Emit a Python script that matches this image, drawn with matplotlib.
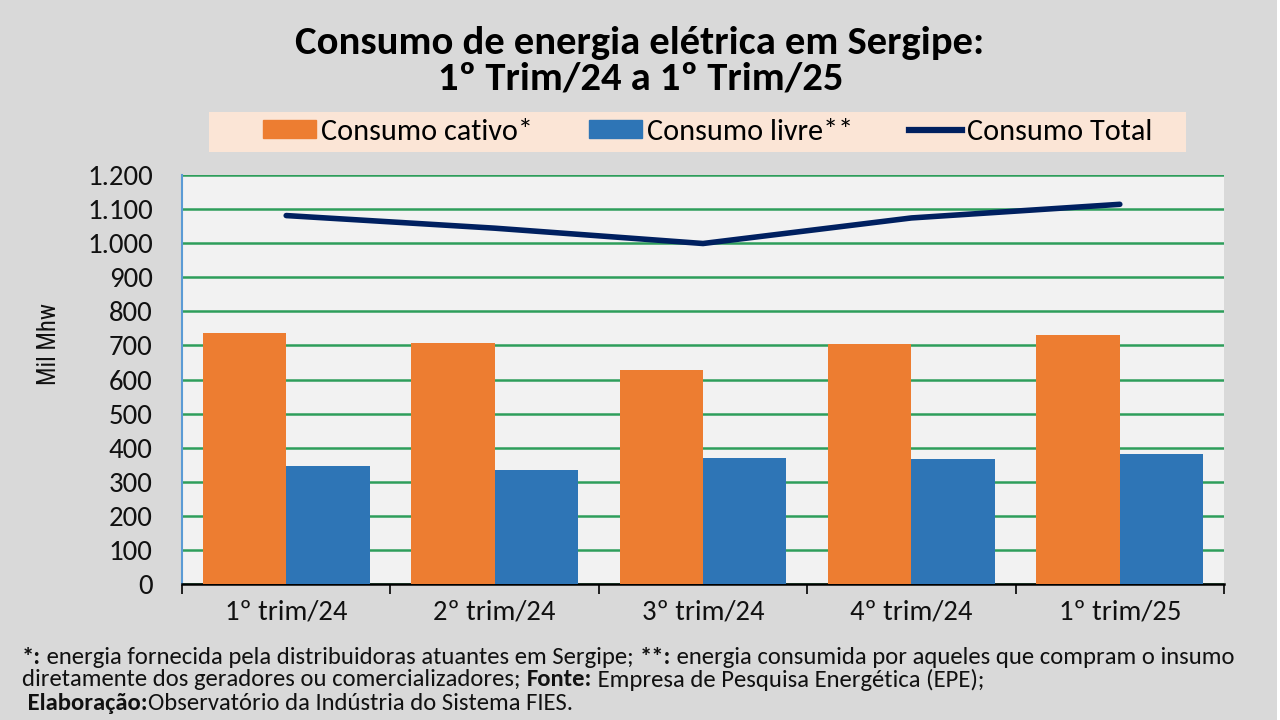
import matplotlib.pyplot as plt
from matplotlib.patches import Rectangle, Patch
from matplotlib.lines import Line2D
from matplotlib.ticker import FuncFormatter

# dados (mil MWh)
trimestres = ['1º trim/24', '2º trim/24', '3º trim/24', '4º trim/24', '1º trim/25']
cativo = [736, 706, 629, 704, 730]
livre = [345, 334, 369, 368, 382]
total = [1081, 1044, 999, 1074, 1114]
series = ['Consumo cativo*', 'Consumo livre**', 'Consumo Total']

laranja = '#ed7d31'
azul = '#2e75b6'
marinho = '#002060'
verde = '#2e9e5b'
fonte = ['Carlito', 'DejaVu Sans']
estreita = ['Roboto Condensed', 'Carlito']

plt.rcParams['font.family'] = fonte

fig = plt.figure(figsize=(12.8, 7.2), dpi=100)
fig.patch.set_facecolor('#d9d9d9')
renderer = fig.canvas.get_renderer()


def tamanho(txt, alvo, peso='normal', base=20.0, familia=None):
    # tamanho de fonte para que o texto ocupe 'alvo' pixels de largura
    t = fig.text(0, 0, txt, fontsize=base, fontweight=peso, family=familia or fonte)
    w = t.get_window_extent(renderer).width
    t.remove()
    return base * alvo / w


fig.patches.append(Rectangle((1277 / 1280, 0), 3 / 1280, 1, transform=fig.transFigure,
                             facecolor='white', edgecolor='none', zorder=0))

ax = fig.add_axes([182 / 1280, 136 / 720, 1042 / 1280, 409 / 720])
ax.set_facecolor('#f2f2f2')

x = list(range(len(trimestres)))
w = 0.4
ax.bar([i - w / 2 for i in x], cativo, width=w, color=laranja, zorder=3)
ax.bar([i + w / 2 for i in x], livre, width=w, color=azul, zorder=3)
ax.plot(x, total, color=marinho, lw=4, solid_capstyle='round', zorder=4)

ax.set_xlim(-0.5, len(trimestres) - 0.5)
ax.set_ylim(0, 1200)
ax.set_yticks(range(0, 1201, 100))
ax.yaxis.set_major_formatter(FuncFormatter(lambda v, p: f'{int(v):,}'.replace(',', '.')))
ax.grid(axis='y', color=verde, lw=1.8, zorder=1)
ax.tick_params(axis='y', length=0, pad=21, labelsize=tamanho('1.200', 66),
               labelcolor='#111111')

# divisões entre categorias e rótulos no centro
ax.set_xticks([i - 0.5 for i in range(len(trimestres) + 1)])
ax.set_xticklabels([])
ax.tick_params(axis='x', which='major', length=7, width=1.2, color='black', direction='out')
ax.set_xticks(x, minor=True)
ax.set_xticklabels(trimestres, minor=True)
ax.tick_params(axis='x', which='minor', length=0, pad=11,
               labelsize=tamanho('1º trim/24', 122), labelcolor='#111111')

for s in ['top', 'right']:
    ax.spines[s].set_visible(False)
ax.spines['left'].set_color('#5b9bd5')
ax.spines['left'].set_linewidth(1.5)
ax.spines['bottom'].set_color('black')
ax.spines['bottom'].set_linewidth(1.8)

# título do eixo y
fig.text(49 / 1280, 1 - 344 / 720, 'Mil Mhw', rotation=90, ha='center', va='center',
         color='#111111', family=estreita,
         fontsize=tamanho('Mil Mhw', 82, familia=estreita))

fs_tit = 0.92 * tamanho('Consumo de energia elétrica em Sergipe:', 750, 'bold')
fig.text(640 / 1280, 1 - 43 / 720, 'Consumo de energia elétrica em Sergipe:', ha='center',
         va='center', fontweight='bold', fontsize=fs_tit)
fig.text(641 / 1280, 1 - 79 / 720, '1º Trim/24 a 1º Trim/25', ha='center', va='center',
         fontweight='bold', fontsize=fs_tit)

# caixa da legenda
fig.patches.append(Rectangle((209 / 1280, 568 / 720), 977 / 1280, 40 / 720,
                             transform=fig.transFigure, facecolor='#fbe5d6',
                             edgecolor='none', zorder=1))
fs_leg = tamanho(series[0], 211)
px = fs_leg * 100 / 72
handles = [Patch(color=laranja), Patch(color=azul), Line2D([], [], color=marinho, lw=4.5)]
fig.legend(handles, series, loc='center left', bbox_to_anchor=(263 / 1280, 1 - 132 / 720),
           ncol=3, frameon=False, fontsize=fs_leg, handlelength=53 / px,
           handleheight=16 / px, handletextpad=5 / px, columnspacing=56 / px,
           borderpad=0, borderaxespad=0)

# rodapé com partes em negrito
nota = [
    [('*:', 'bold'), (' energia fornecida pela distribuidoras atuantes em Sergipe; ', 'normal'),
     ('**:', 'bold'), (' energia consumida por aqueles que compram o insumo', 'normal')],
    [('diretamente dos geradores ou comercializadores; ', 'normal'), ('Fonte:', 'bold'),
     (' Empresa de Pesquisa Energética (EPE);', 'normal')],
    [(' Elaboração:', 'bold'), ('Observatório da Indústria do Sistema FIES.', 'normal')],
]
base = 14.0
largura = sum(tamanho(txt, 100, peso, base) ** -1 * base * 100 for txt, peso in nota[0])
fs_nota = base * 1218 / largura
ys = [657, 680, 703]
for linha, yp in zip(nota, ys):
    xp = 22
    for txt, peso in linha:
        t = fig.text(xp / 1280, 1 - yp / 720, txt, ha='left', va='center',
                     fontsize=fs_nota, fontweight=peso, color='#111111')
        xp += t.get_window_extent(renderer).width

fig.savefig('out.png', dpi=100, facecolor=fig.get_facecolor())
